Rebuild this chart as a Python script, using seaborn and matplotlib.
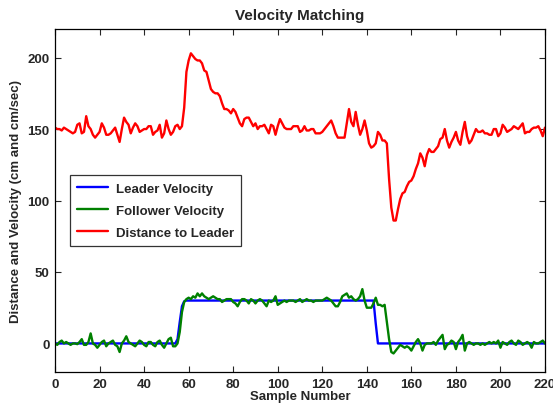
import numpy as np
import pandas as pd
import matplotlib
matplotlib.use("Agg")
import matplotlib.pyplot as plt
import seaborn as sns

samples = list(range(221))

leader = ([0] * 55 + [3, 15, 26, 29.5] + [30] * 85 + [14] + [0] * 76)

follower = [0, -1, 1, 2, 0, 1, 0, -1, 0, 0, -0.5, 1, 3, -1, -1, 1, 7, 0, -1, -3,
            -1, 1, 2, -2, 0, 1, 2, -1, -2, -6, 0, 2, 5, 1, 0, -1, -2, 0, 2, 1,
            -1, -2, 1, 1, -1, -2, 1, 2, -1, -3, 0, 3, 4, -2, -2, 0, 8, 22, 29, 31,
            32, 31, 33, 32, 35, 33, 35, 33, 32, 31, 32, 33, 32, 31, 31, 29, 30, 31, 31, 31,
            29, 28, 26, 29, 31, 31, 30, 28, 31, 30, 28, 30, 31, 30, 28, 26, 30, 29, 30, 33,
            27, 28, 29, 30, 29, 30, 30, 30, 29, 30, 31, 29, 30, 31, 30, 30, 29, 30, 30, 30,
            30, 31, 32, 31, 30, 28, 26, 26, 29, 33, 34, 35, 32, 33, 31, 30, 31, 33, 38, 30,
            25, 25, 25, 28, 32, 27, 27, 26, 27, 15, 3, -6, -7, -5, -3, -1, -2, -3, -2, -3,
            -5, -2, 1, 3, 0, -5, -1, 0, 0, 0, 1, -1, 2, 4, 6, -4, -1, 0, 2, 1,
            -4, 1, 3, 6, -5, 0, 1, 0, -1, 0, 0, -1, 0, -1, 0, 1, 0, 1, 0, 2,
            -3, 1, 0, -1, 1, 2, 0, -1, 2, 1, -1, 0, 1, 0, -3, 1, 0, 0, 1, 2, 0]

distance = [151, 150, 150, 149, 151, 150, 149, 148, 147, 148, 153, 154, 147, 148, 159, 152, 150, 146, 144, 146,
            148, 154, 151, 146, 146, 147, 149, 151, 146, 141, 150, 158, 155, 153, 147, 151, 154, 152, 148, 149,
            150, 150, 152, 152, 146, 148, 149, 153, 144, 147, 156, 150, 146, 148, 152, 153, 150, 152, 165, 190,
            198, 203, 201, 199, 198, 198, 196, 191, 190, 184, 178, 176, 175, 175, 173, 168, 164, 164, 163, 161,
            164, 162, 158, 154, 152, 157, 158, 158, 155, 152, 154, 150, 152, 152, 153, 150, 147, 153, 152, 146,
            152, 157, 154, 151, 150, 150, 150, 152, 152, 152, 148, 149, 152, 149, 149, 150, 150, 147, 147, 147,
            148, 150, 152, 154, 156, 152, 147, 144, 144, 144, 144, 154, 164, 155, 152, 162, 153, 146, 150, 156,
            149, 140, 137, 138, 140, 148, 146, 142, 142, 140, 115, 95, 86, 86, 94, 101, 105, 106, 110, 113,
            114, 117, 122, 126, 133, 130, 124, 132, 136, 134, 134, 136, 138, 143, 144, 150, 142, 137, 141, 144,
            148, 142, 139, 148, 155, 145, 140, 142, 146, 150, 148, 148, 149, 147, 147, 146, 146, 150, 150, 145,
            147, 153, 151, 148, 149, 150, 152, 151, 150, 152, 154, 147, 148, 148, 150, 151, 151, 152, 149, 145, 151]

series_names = ["Leader Velocity", "Follower Velocity", "Distance to Leader"]
colors = ["#0000ff", "#008000", "#ff0000"]

df = pd.concat([
    pd.DataFrame({"Sample": samples, "Value": leader, "Series": series_names[0]}),
    pd.DataFrame({"Sample": samples, "Value": follower, "Series": series_names[1]}),
    pd.DataFrame({"Sample": samples, "Value": distance, "Series": series_names[2]}),
])

sns.set_style("ticks")
plt.rcParams["font.family"] = ["Liberation Sans", "DejaVu Sans"]
plt.rcParams["font.weight"] = "bold"

fig = plt.figure(figsize=(5.53, 4.10), dpi=100)
ax = fig.add_axes([0.0995, 0.0902, 0.886, 0.8366])

sns.lineplot(data=df, x="Sample", y="Value", hue="Series", hue_order=series_names,
             palette=colors, linewidth=1.7, ax=ax, estimator=None)

ax.set_xlim(0, 220)
ax.set_ylim(-20, 220)
ax.set_xticks(range(0, 221, 20))
ax.set_yticks([0, 50, 100, 150, 200])
ax.tick_params(direction="in", top=True, right=True, length=4, width=0.8,
               labelsize=9.5, pad=4)
for lab in ax.get_xticklabels() + ax.get_yticklabels():
    lab.set_fontweight("bold")
for sp in ax.spines.values():
    sp.set_visible(True)
    sp.set_linewidth(0.9)
    sp.set_color("black")

ax.set_xlabel("Sample Number", fontsize=9.5, fontweight="bold", labelpad=0)
ax.set_ylabel("Distance and Velocity (cm and cm/sec)", fontsize=9.5, fontweight="bold", labelpad=4)
ax.set_title("Velocity Matching", fontsize=11, fontweight="bold", pad=7)

leg = ax.legend(loc="upper left", bbox_to_anchor=(0.031, 0.574), frameon=True,
                fancybox=False, edgecolor="black", fontsize=9.5, handlelength=2.3,
                borderpad=0.55, labelspacing=0.75, handletextpad=0.6, borderaxespad=0)
leg.get_frame().set_linewidth(0.9)
for t in leg.get_texts():
    t.set_fontweight("bold")

fig.savefig("out.png", dpi=100)
